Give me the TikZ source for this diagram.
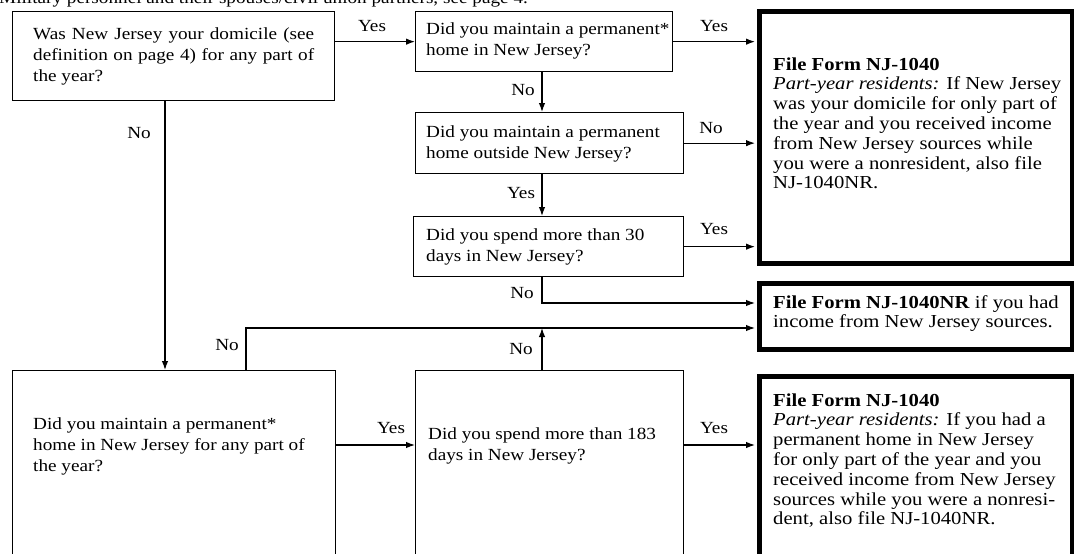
\documentclass[tikz,border=0pt]{standalone}
\usepackage{fontspec}
\setmainfont{Liberation Serif}[FakeStretch=1.13]
\usetikzlibrary{arrows.meta,calc}
\newcommand\qf{\fontsize{17}{21}\selectfont}
\newcommand\af{\fontsize{18.3}{19.8}\selectfont}
\begin{document}
\begin{tikzpicture}[x=1pt,y=-1pt,
  qbox/.style={draw, line width=1.3pt, inner sep=0pt, anchor=north west},
  abox/.style={draw, line width=4.6pt, inner sep=0pt, anchor=north west},
  qtext/.style={anchor=north west, align=left, inner sep=0pt, font=\qf},
  atext/.style={anchor=north west, align=left, inner sep=0pt, font=\af},
  lbl/.style={inner sep=0pt, font=\qf},
  arr/.style={-{Latex[length=9pt,width=6.5pt]}, line width=1.2pt}]
\useasboundingbox (0,0) rectangle (1074,554);
\clip (0,0) rectangle (1074,554);
\fill[white] (0,0) rectangle (1074,554);

% cut-off heading
\node[anchor=base west, inner sep=0pt, font=\qf] (head) at (-1,3) {Military personnel and their spouses/civil union partners, see page 4.};

% boxes
\node[qbox, minimum width=322pt, minimum height=89pt] (A) at (12,11) {};
\node[qbox, minimum width=257pt, minimum height=60pt] (B) at (415,11) {};
\node[qbox, minimum width=268pt, minimum height=61pt] (D) at (415,112) {};
\node[qbox, minimum width=270pt, minimum height=60pt] (E) at (413,216) {};
\node[abox, minimum width=313pt, minimum height=252pt] (C) at (757,9) {};
\node[abox, minimum width=313pt, minimum height=66pt] (NR) at (757,281) {};
\node[qbox, minimum width=323pt, minimum height=250pt] (F) at (12,370) {};
\node[qbox, minimum width=268pt, minimum height=250pt] (G) at (415,370) {};
\node[abox, minimum width=313pt, minimum height=250pt] (H) at (757,374) {};

% texts
\node[qtext] (tA) at (33,25) {\strut\makebox[281pt][s]{Was New Jersey your domicile (see}\\\makebox[281pt][s]{definition on page 4) for any part of}\\the year?};
\node[qtext] (tB) at (426,20) {\strut Did you maintain a permanent*\\home in New Jersey?};
\node[qtext] (tD) at (426,123) {\strut Did you maintain a permanent\\home outside New Jersey?};
\node[qtext] (tE) at (426,226) {\strut Did you spend more than 30\\days in New Jersey?};
\node[qtext] (tF) at (33,415) {\strut Did you maintain a permanent*\\home in New Jersey for any part of\\the year?};
\node[qtext] (tG) at (428,425) {\strut Did you spend more than 183\\days in New Jersey?};
\node[atext] (tC) at (773,56) {\strut\textbf{File Form NJ-1040}\\\textit{Part-year residents:} If New Jersey\\was your domicile for only part of\\the year and you received income\\from New Jersey sources while\\you were a nonresident, also file\\NJ-1040NR.};
\node[atext] (tNR) at (773,294) {\strut\textbf{File Form NJ-1040NR} if you had\\income from New Jersey sources.};
\node[atext] (tH) at (773,392) {\strut\textbf{File Form NJ-1040}\\\textit{Part-year residents:} If you had a\\permanent home in New Jersey\\for only part of the year and you\\received income from New Jersey\\sources while you were a nonresi-\\dent, also file NJ-1040NR.};

% helper coordinates
\coordinate (mx) at (542,0);
\coordinate (ax) at (165,0);
\coordinate (fx) at (246,0);
\coordinate (y1) at (0,303);
\coordinate (y2) at (0,328);
\coordinate (y3) at (0,445);

% connectors
\draw[arr] (A.east |- B.west) -- (B.west);
\draw[arr, shorten >=2pt] (B.east) -- (B.east -| C.west);
\draw[arr] (B.south -| mx) -- (D.north -| mx);
\draw[arr, shorten >=2pt] (D.east) -- (D.east -| C.west);
\draw[arr] (D.south -| mx) -- (E.north -| mx);
\draw[arr, shorten >=2pt] (E.east) -- (E.east -| C.west);
\draw[arr, shorten >=2pt] (E.south -| mx) |- (NR.west |- y1);
\draw[arr] (A.south -| ax) -- (F.north -| ax);
\draw[arr, shorten >=2pt] (F.north -| fx) |- (NR.west |- y2);
\draw[arr] (G.north -| mx) -- (mx |- y2);
\draw[arr] (F.east |- y3) -- (G.west |- y3);
\draw[arr, shorten >=2pt] (G.east |- y3) -- (H.west |- y3);

% labels
\node[lbl] (l1) at (372,26) {Yes};
\node[lbl] (l2) at (714,26) {Yes};
\node[lbl] (l3) at (523,90) {No};
\node[lbl] (l4) at (711,128) {No};
\node[lbl] (l5) at (521,193) {Yes};
\node[lbl] (l6) at (714,229) {Yes};
\node[lbl] (l7) at (522,293) {No};
\node[lbl] (l8) at (139,133) {No};
\node[lbl] (l9) at (227,345) {No};
\node[lbl] (l10) at (521,349) {No};
\node[lbl] (l11) at (391,428) {Yes};
\node[lbl] (l12) at (714,428) {Yes};
\end{tikzpicture}
\end{document}
